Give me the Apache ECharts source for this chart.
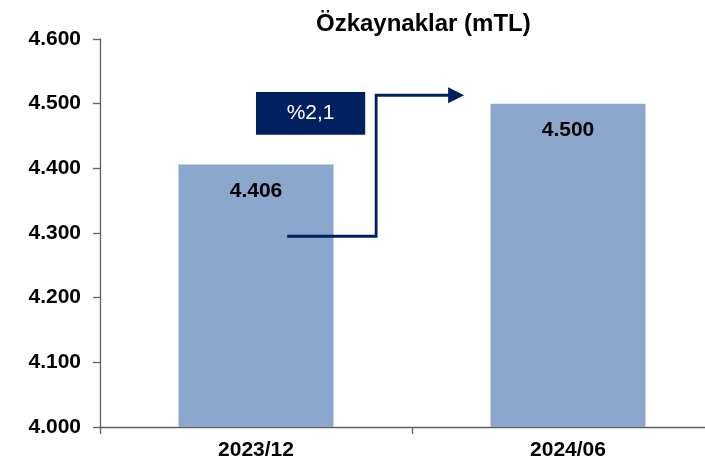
<!DOCTYPE html>
<html><head><meta charset="utf-8">
<script src="https://cdn.jsdelivr.net/npm/echarts@6/dist/echarts.min.js"></script>
<style>html,body{margin:0;padding:0;background:#fff}#c{width:705px;height:465px}</style>
</head><body><div id="c"></div>
<script>
const titleText = 'Özkaynaklar (mTL)';
const categories = ['2023/12', '2024/06'];
const equity = [4406, 4500];
const yMin = 4000, yMax = 4600, yStep = 100;
const arrowStartValue = 4295, arrowTopValue = 4513;
const boxTopValue = 4518, boxBottomValue = 4452;

const fmt = n => String(n).replace(/\B(?=(\d{3})+(?!\d))/g, '.');
const growth = '%' + ((equity[1] / equity[0] - 1) * 100).toFixed(1).replace('.', ',');

const FONT = '"Liberation Sans", Arial, sans-serif';
const AXIS = '#5f5f5f';
const NAVY = '#002060';

const chart = echarts.init(document.getElementById('c'), null, {renderer: 'canvas'});
chart.setOption({
  animation: false,
  backgroundColor: '#fff',
  title: {
    text: titleText, left: 311, top: 7,
    textStyle: {fontFamily: FONT, fontSize: 24, fontWeight: 'bold', color: '#000'}
  },
  grid: {left: 100, right: -19, top: 39, bottom: 38, containLabel: false, outerBoundsMode: 'none'},
  xAxis: {
    type: 'category', data: categories,
    axisLine: {lineStyle: {color: AXIS, width: 1.3}},
    axisTick: {show: true, length: 7, lineStyle: {color: AXIS, width: 1.3}},
    axisLabel: {margin: 13, fontFamily: FONT, fontSize: 21, fontWeight: 'bold', color: '#000'}
  },
  yAxis: {
    type: 'value', min: yMin, max: yMax, interval: yStep,
    splitLine: {show: false},
    axisLine: {show: true, lineStyle: {color: AXIS, width: 1.3}},
    axisTick: {show: true, length: 7, lineStyle: {color: AXIS, width: 1.3}},
    axisLabel: {margin: 19, fontFamily: FONT, fontSize: 21, fontWeight: 'bold', color: '#000', formatter: v => fmt(v)}
  },
  series: [{
    type: 'bar', data: equity, barWidth: 155,
    itemStyle: {color: '#8BA7CE'},
    label: {show: true, position: 'insideTop', distance: 16, formatter: p => fmt(p.value),
      fontFamily: FONT, fontSize: 21, fontWeight: 'bold', color: '#000'}
  }]
});

const x0 = chart.convertToPixel({xAxisIndex: 0}, 0);
const x1 = chart.convertToPixel({xAxisIndex: 0}, 1);
const band = x1 - x0;
const yp = v => chart.convertToPixel({yAxisIndex: 0}, v);
const ys = yp(arrowStartValue), yt = yp(arrowTopValue);
const xs = x0 + band * 0.1, xe = x0 + band * 0.385, xtip = x0 + band * 0.667;
const bTop = yp(boxTopValue), bBot = yp(boxBottomValue);
const bLeft = x0, bW = band * 0.35;

chart.setOption({
  graphic: [
    {type: 'polyline', shape: {points: [[xs, ys], [xe, ys], [xe, yt], [xtip - 14, yt]]},
      style: {stroke: NAVY, lineWidth: 2.8, fill: null}, z: 10},
    {type: 'polygon', shape: {points: [[xtip - 16, yt - 8], [xtip, yt], [xtip - 16, yt + 8]]},
      style: {fill: NAVY}, z: 10},
    {type: 'rect', shape: {x: bLeft, y: bTop, width: bW, height: bBot - bTop},
      style: {fill: NAVY}, z: 10},
    {type: 'text', x: bLeft + bW / 2, y: (bTop + bBot) / 2, z: 11,
      style: {text: growth, fill: '#fff', font: '21px ' + FONT, textAlign: 'center', textVerticalAlign: 'middle'}}
  ]
});
</script></body></html>
